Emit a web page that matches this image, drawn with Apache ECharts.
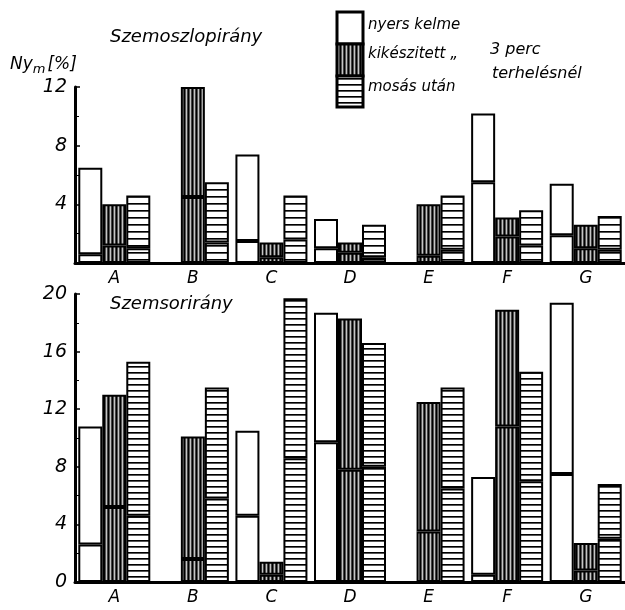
<!DOCTYPE html>
<html>
<head>
<meta charset="utf-8">
<script src="https://cdn.jsdelivr.net/npm/echarts@6/dist/echarts.min.js"></script>
<style>
  html, body { margin: 0; padding: 0; background: #fff; }
  #chart { width: 625px; height: 610px; }
</style>
</head>
<body>
<div id="chart"></div>
<script>
// kategóriák
const categories = ["A", "B", "C", "D", "E", "F", "G"];

// Szemoszlopirány (felső)
const topRaw = [6.5, null, 7.4, 3.0, null, 10.2, 5.4];
const topRawInner = [0.6, null, 1.5, 1.0, null, 5.5, 1.9];
const topFinished = [4.0, 12.0, 1.4, 1.4, 4.0, 3.1, 2.6];
const topFinishedInner = [1.2, 4.5, 0.4, 0.7, 0.5, 1.8, 1.0];
const topWashed = [4.6, 5.5, 4.6, 2.6, 4.6, 3.6, 3.2];
const topWashedInner = [1.0, 1.4, 1.6, 0.4, 0.9, 1.2, 0.9];

// Szemsorirány (alsó)
const botRaw = [10.8, null, 10.5, 18.7, null, 7.3, 19.4];
const botRawInner = [2.6, null, 4.6, 9.7, null, 0.5, 7.5];
const botFinished = [13.0, 10.1, 1.4, 18.3, 12.5, 18.9, 2.7];
const botFinishedInner = [5.2, 1.6, 0.5, 7.8, 3.5, 10.8, 0.8];
const botWashed = [15.3, 13.5, 19.7, 16.6, 13.5, 14.6, 6.8];
const botWashedInner = [4.6, 5.8, 8.6, 8.0, 6.5, 7.0, 3.0];

const topTicks = [4, 8, 12];
const botTicks = [0, 4, 8, 12, 16, 20];

const FONT = '"DejaVu Sans", sans-serif';

// minták
function makePattern(w, h, draw) {
  const c = document.createElement("canvas");
  c.width = w;
  c.height = h;
  draw(c.getContext("2d"));
  return { image: c, repeat: "repeat" };
}
const vertPattern = makePattern(4, 1, (ctx) => {
  const cols = ["#000", "#555", "#c4c4c4", "#444"];
  cols.forEach((col, i) => { ctx.fillStyle = col; ctx.fillRect(i, 0, 1, 1); });
});
const horzPattern = (step) => makePattern(1, step, (ctx) => {
  ctx.fillStyle = "#fff"; ctx.fillRect(0, 0, 1, step);
  ctx.fillStyle = "#000"; ctx.fillRect(0, 0, 1, 1);
  ctx.fillStyle = "#555"; ctx.fillRect(0, 1, 1, 1);
});

function upper(total, inner) {
  return total.map((v, i) => (v == null ? null : +(v - inner[i]).toFixed(2)));
}

function barPair(name, total, inner, fill, axisIdx) {
  const style = { color: fill, borderColor: "#000", borderWidth: 2 };
  return [
    { name: name, type: "bar", stack: name + axisIdx, xAxisIndex: axisIdx, yAxisIndex: axisIdx,
      data: inner, barWidth: 24, barGap: 0, itemStyle: style, silent: true },
    { name: name, type: "bar", stack: name + axisIdx, xAxisIndex: axisIdx, yAxisIndex: axisIdx,
      data: upper(total, inner), barWidth: 24, barGap: 0, itemStyle: style, silent: true },
  ];
}

function xAxisOf(idx) {
  return {
    type: "category", gridIndex: idx, data: categories,
    axisLine: { lineStyle: { color: "#000", width: 3 } },
    axisTick: { show: false },
    axisLabel: { color: "#000", fontFamily: FONT, fontStyle: "italic", fontSize: 17, margin: 7 },
  };
}
function yAxisOf(idx, max, ticks) {
  return {
    type: "value", gridIndex: idx, min: 0, max: max, interval: 4,
    axisLine: { show: true, lineStyle: { color: "#000", width: 3 } },
    axisTick: { show: true, inside: true, length: 5, lineStyle: { color: "#000", width: 1.5 } },
    minorTick: { show: true, splitNumber: 2, length: 4, lineStyle: { color: "#000" } },
    splitLine: { show: false },
    axisLabel: {
      color: "#000", fontFamily: FONT, fontStyle: "italic", fontSize: 19, margin: 8,
      formatter: (v) => (ticks.indexOf(v) >= 0 ? String(v) : ""),
    },
  };
}

const chart = echarts.init(document.getElementById("chart"));
chart.setOption({
  animation: false,
  backgroundColor: "#fff",
  grid: [
    { left: 75, right: 0, top: 87, height: 176 },
    { left: 75, right: 0, top: 294, height: 288 },
  ],
  xAxis: [xAxisOf(0), xAxisOf(1)],
  yAxis: [yAxisOf(0, 12, topTicks), yAxisOf(1, 20, botTicks)],
  series: [
    ...barPair("nyers", topRaw, topRawInner, "#fff", 0),
    ...barPair("kikeszitett", topFinished, topFinishedInner, vertPattern, 0),
    ...barPair("mosas", topWashed, topWashedInner, horzPattern(7), 0),
    ...barPair("nyers", botRaw, botRawInner, "#fff", 1),
    ...barPair("kikeszitett", botFinished, botFinishedInner, vertPattern, 1),
    ...barPair("mosas", botWashed, botWashedInner, horzPattern(6), 1),
  ],
  graphic: [
    { type: "text", left: 110, top: 28, style: { text: "Szemoszlopirány", font: "italic 18px " + FONT, fill: "#000" } },
    { type: "text", left: 110, top: 295, style: { text: "Szemsorirány", font: "italic 18px " + FONT, fill: "#000" } },
    { type: "text", left: 10, top: 56, style: {
        text: "{a|Ny}{s|m}{a|[%]}",
        rich: {
          a: { fontFamily: FONT, fontStyle: "italic", fontSize: 17, fill: "#000" },
          s: { fontFamily: FONT, fontStyle: "italic", fontSize: 13, fill: "#000", padding: [10, 2, 0, 0] },
        } } },
    // jelmagyarázat
    { type: "rect", shape: { x: 337, y: 12, width: 26, height: 32 }, style: { fill: "#fff", stroke: "#000", lineWidth: 3 } },
    { type: "rect", shape: { x: 337, y: 44, width: 26, height: 32 }, style: { fill: vertPattern, stroke: "#000", lineWidth: 3 } },
    { type: "rect", shape: { x: 337, y: 76, width: 26, height: 31 }, style: { fill: horzPattern(6), stroke: "#000", lineWidth: 3 } },
    { type: "text", left: 368, top: 18, style: { text: "nyers kelme", font: "italic 15px " + FONT, fill: "#000" } },
    { type: "text", left: 368, top: 47, style: { text: "kikészitett „", font: "italic 15px " + FONT, fill: "#000" } },
    { type: "text", left: 368, top: 80, style: { text: "mosás után", font: "italic 15px " + FONT, fill: "#000" } },
    { type: "text", left: 490, top: 42, style: { text: "3 perc", font: "italic 16px " + FONT, fill: "#000" } },
    { type: "text", left: 492, top: 66, style: { text: "terhelésnél", font: "italic 16px " + FONT, fill: "#000" } },
  ],
});
</script>
</body>
</html>
